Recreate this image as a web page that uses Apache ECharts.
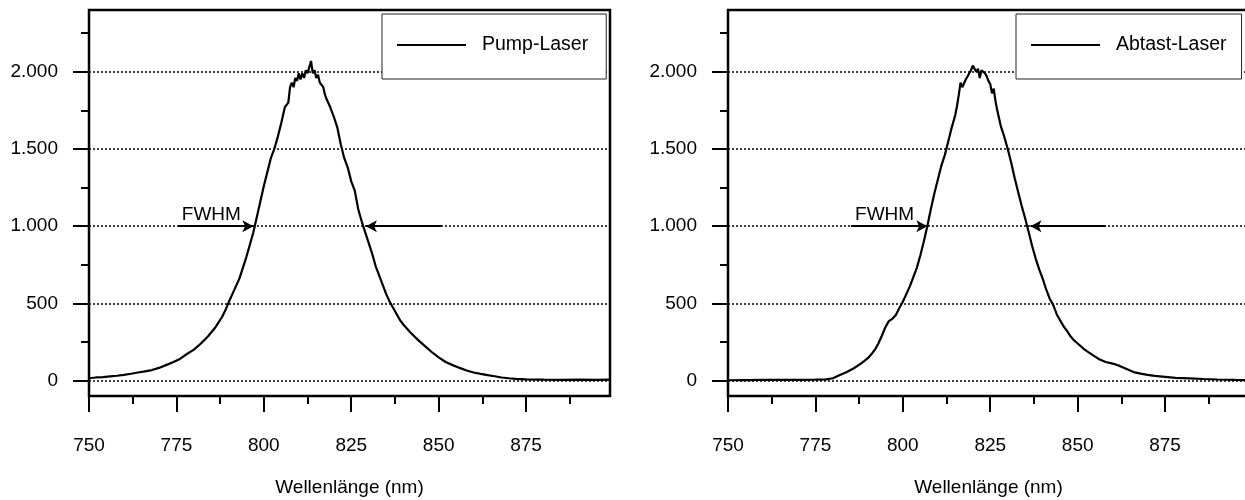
<!DOCTYPE html>
<html>
<head>
<meta charset="utf-8">
<script src="https://cdn.jsdelivr.net/npm/echarts@6/dist/echarts.min.js"></script>
<style>html,body{margin:0;padding:0;background:#fff}#c{width:1245px;height:500px}</style>
</head>
<body>
<div id="c"></div>
<script>
// ---- data ----
const pumpWavelength = [750,752,754,756,758,760,762,764,766,768,770,772,774,776,778,780,782,784,786,787,788,789,790,791,792,793,794,795,796,797,798,799,800,801,802,803,804,805,806,806.5,807,807.5,808,808.5,809,809.5,810,810.5,811,811.5,812,812.5,813,813.5,814,814.5,815,815.5,816,817,817.5,818,819,819.5,820,821,822,823,824,825,826,827,828,829,830,831,832,833,834,835,836,837,838,839,840,842,844,846,848,850,852,854,856,858,860,862,864,866,868,870,872,875,880,885,890,895,899];
const pumpIntensity  = [15,20,22,27,31,37,44,52,60,68,82,100,118,140,172,200,240,285,340,375,410,455,510,560,610,660,730,800,880,960,1060,1160,1260,1350,1440,1500,1580,1670,1770,1780,1800,1900,1930,1900,1960,1940,1990,1950,1990,1960,2010,1990,2030,2070,1990,2010,1960,1980,1930,1900,1850,1820,1770,1780,1710,1640,1530,1440,1380,1290,1230,1110,1030,960,890,820,740,680,620,560,510,470,430,390,360,310,265,225,185,150,120,100,82,65,52,43,35,28,20,15,11,8,6,5,6,5,6];

const probeWavelength = [750,755,760,765,770,775,778,780,782,784,786,788,790,791,792,793,794,795,796,797,798,799,800,801,802,803,804,805,806,807,808,809,810,811,812,813,814,815,815.5,816,816.5,817,817.5,818,818.5,819,819.5,820,820.5,821,821.5,822,822.5,823,823.5,824,824.5,825,825.5,826,826.5,827,828,829,830,831,832,833,834,835,836,837,838,839,840,841,842,843,844,845,846,847,848,849,850,852,854,856,858,860,862,864,866,868,870,872,875,878,882,886,890,895,899];
const probeIntensity  = [2,3,4,5,4,6,8,15,36,55,80,110,145,170,200,240,290,345,385,400,425,470,510,560,610,670,730,810,900,1000,1110,1210,1300,1390,1460,1550,1640,1720,1780,1850,1930,1900,1900,1950,1950,1990,2010,2040,2030,2000,2020,1960,2010,2000,1990,1970,1940,1920,1860,1890,1810,1750,1650,1580,1500,1410,1310,1220,1130,1050,960,870,790,720,660,590,530,490,430,390,350,320,285,260,240,200,170,140,120,110,95,75,55,45,37,30,24,18,14,10,7,4,3];

const seriesNames = ['Pump-Laser', 'Abtast-Laser'];
const xAxisName = 'Wellenlänge (nm)';
const xMajorTicks = [750, 775, 800, 825, 850, 875];
const xMinorTicks = [762.5, 787.5, 812.5, 837.5, 862.5, 887.5];
const yMajorTicks = [0, 500, 1000, 1500, 2000];
const yMinorTicks = [250, 750, 1250, 1750, 2250];
const fwhmLevel = 1000;
const fwhmLabel = 'FWHM';
const pumpFwhmArrows  = [[775.4, 797.0], [850.8, 829.2]];
const probeFwhmArrows = [[785.2, 807.0], [858.0, 836.5]];

// ---- chart ----
const FONT = '"Liberation Sans", Arial, sans-serif';
const FS = 19;
const fmtDE = v => v >= 1000 ? Math.floor(v / 1000) + '.' + String(v % 1000).padStart(3, '0') : String(v);

function pairs(xs, ys) { return xs.map((x, i) => [x, ys[i]]); }

function axesFor(g) {
  const xMajor = {
    gridIndex: g, type: 'value', min: 750, max: 899, position: 'bottom',
    axisLine: { show: false, onZero: false },
    axisTick: { show: true, inside: false, length: 16, customValues: xMajorTicks, lineStyle: { color: '#000', width: 2 } },
    axisLabel: { show: true, customValues: xMajorTicks, margin: 40, color: '#000', fontSize: FS, fontFamily: FONT },
    splitLine: { show: false },
    name: xAxisName, nameLocation: 'middle', nameGap: 82,
    nameTextStyle: { color: '#000', fontSize: FS, fontFamily: FONT }
  };
  const xMinor = {
    gridIndex: g, type: 'value', min: 750, max: 899, position: 'bottom',
    axisLine: { show: false, onZero: false },
    axisTick: { show: true, inside: false, length: 8, customValues: xMinorTicks, lineStyle: { color: '#000', width: 2 } },
    axisLabel: { show: false }, splitLine: { show: false }
  };
  const yMajor = {
    gridIndex: g, type: 'value', min: -100, max: 2400, position: 'left',
    axisLine: { show: false, onZero: false },
    axisTick: { show: true, inside: false, length: 16, customValues: yMajorTicks, lineStyle: { color: '#000', width: 2 } },
    axisLabel: { show: true, customValues: yMajorTicks, margin: 31, color: '#000', fontSize: FS, fontFamily: FONT, formatter: fmtDE },
    splitLine: { show: false }
  };
  const yMinor = {
    gridIndex: g, type: 'value', min: -100, max: 2400, position: 'left',
    axisLine: { show: false, onZero: false },
    axisTick: { show: true, inside: false, length: 8, customValues: yMinorTicks, lineStyle: { color: '#000', width: 2 } },
    axisLabel: { show: false }, splitLine: { show: false }
  };
  return { x: [xMajor, xMinor], y: [yMajor, yMinor] };
}

const a0 = axesFor(0), a1 = axesFor(1);

function markLineFor(arrows) {
  const grid = yMajorTicks.map(v => ({ yAxis: v, lineStyle: { type: [2, 2], width: 1.5, color: '#000' } }));
  const arr = arrows.map((a, i) => [
    { coord: [a[0], fwhmLevel], symbol: 'none',
      label: i === 0 ? { show: true, formatter: fwhmLabel, position: 'insideStartTop', distance: [4, 2], color: '#000', fontSize: FS, fontFamily: FONT } : { show: false } },
    { coord: [a[1], fwhmLevel], symbol: 'arrow' }
  ]);
  return {
    silent: true, z: 1, symbol: ['none', 'none'], symbolSize: [9, 11],
    label: { show: false },
    lineStyle: { type: 'solid', color: '#000', width: 2 },
    emphasis: { disabled: true },
    data: grid.concat(arr)
  };
}

function legendFor(name, left, padRight) {
  return {
    data: [{ name: name, icon: 'rect' }], left: left, top: 14, orient: 'horizontal',
    backgroundColor: '#fff', borderColor: '#222', borderWidth: 1, borderRadius: 0,
    padding: [21, padRight, 24, 15],
    itemWidth: 69, itemHeight: 2,
    itemStyle: { color: '#000', borderWidth: 0 },
    textStyle: { color: '#000', fontSize: 19.5, fontFamily: FONT, padding: [0, 0, 0, 11] },
    selectedMode: false
  };
}

const option = {
  animation: false,
  backgroundColor: '#fff',
  grid: [
    { left: 89, top: 10, width: 521, height: 386, outerBoundsMode: 'none', containLabel: false, show: true, borderColor: '#000', borderWidth: 2.5, backgroundColor: 'transparent' },
    { left: 728, top: 10, width: 521, height: 386, outerBoundsMode: 'none', containLabel: false, show: true, borderColor: '#000', borderWidth: 2.5, backgroundColor: 'transparent' }
  ],
  xAxis: [a0.x[0], a0.x[1], a1.x[0], a1.x[1]],
  yAxis: [a0.y[0], a0.y[1], a1.y[0], a1.y[1]],
  legend: [legendFor(seriesNames[0], 382, 18), legendFor(seriesNames[1], 1016, 15)],
  series: [
    { name: seriesNames[0], type: 'line', xAxisIndex: 0, yAxisIndex: 0, data: pairs(pumpWavelength, pumpIntensity),
      symbol: 'none', showSymbol: false, smooth: false, z: 3,
      lineStyle: { color: '#000', width: 2.2 }, itemStyle: { color: '#000' },
      markLine: markLineFor(pumpFwhmArrows) },
    { name: seriesNames[1], type: 'line', xAxisIndex: 2, yAxisIndex: 2, data: pairs(probeWavelength, probeIntensity),
      symbol: 'none', showSymbol: false, smooth: false, z: 3,
      lineStyle: { color: '#000', width: 2.2 }, itemStyle: { color: '#000' },
      markLine: markLineFor(probeFwhmArrows) }
  ]
};

const chart = echarts.init(document.getElementById('c'), null, { renderer: 'canvas' });
chart.setOption(option);
</script>
</body>
</html>
